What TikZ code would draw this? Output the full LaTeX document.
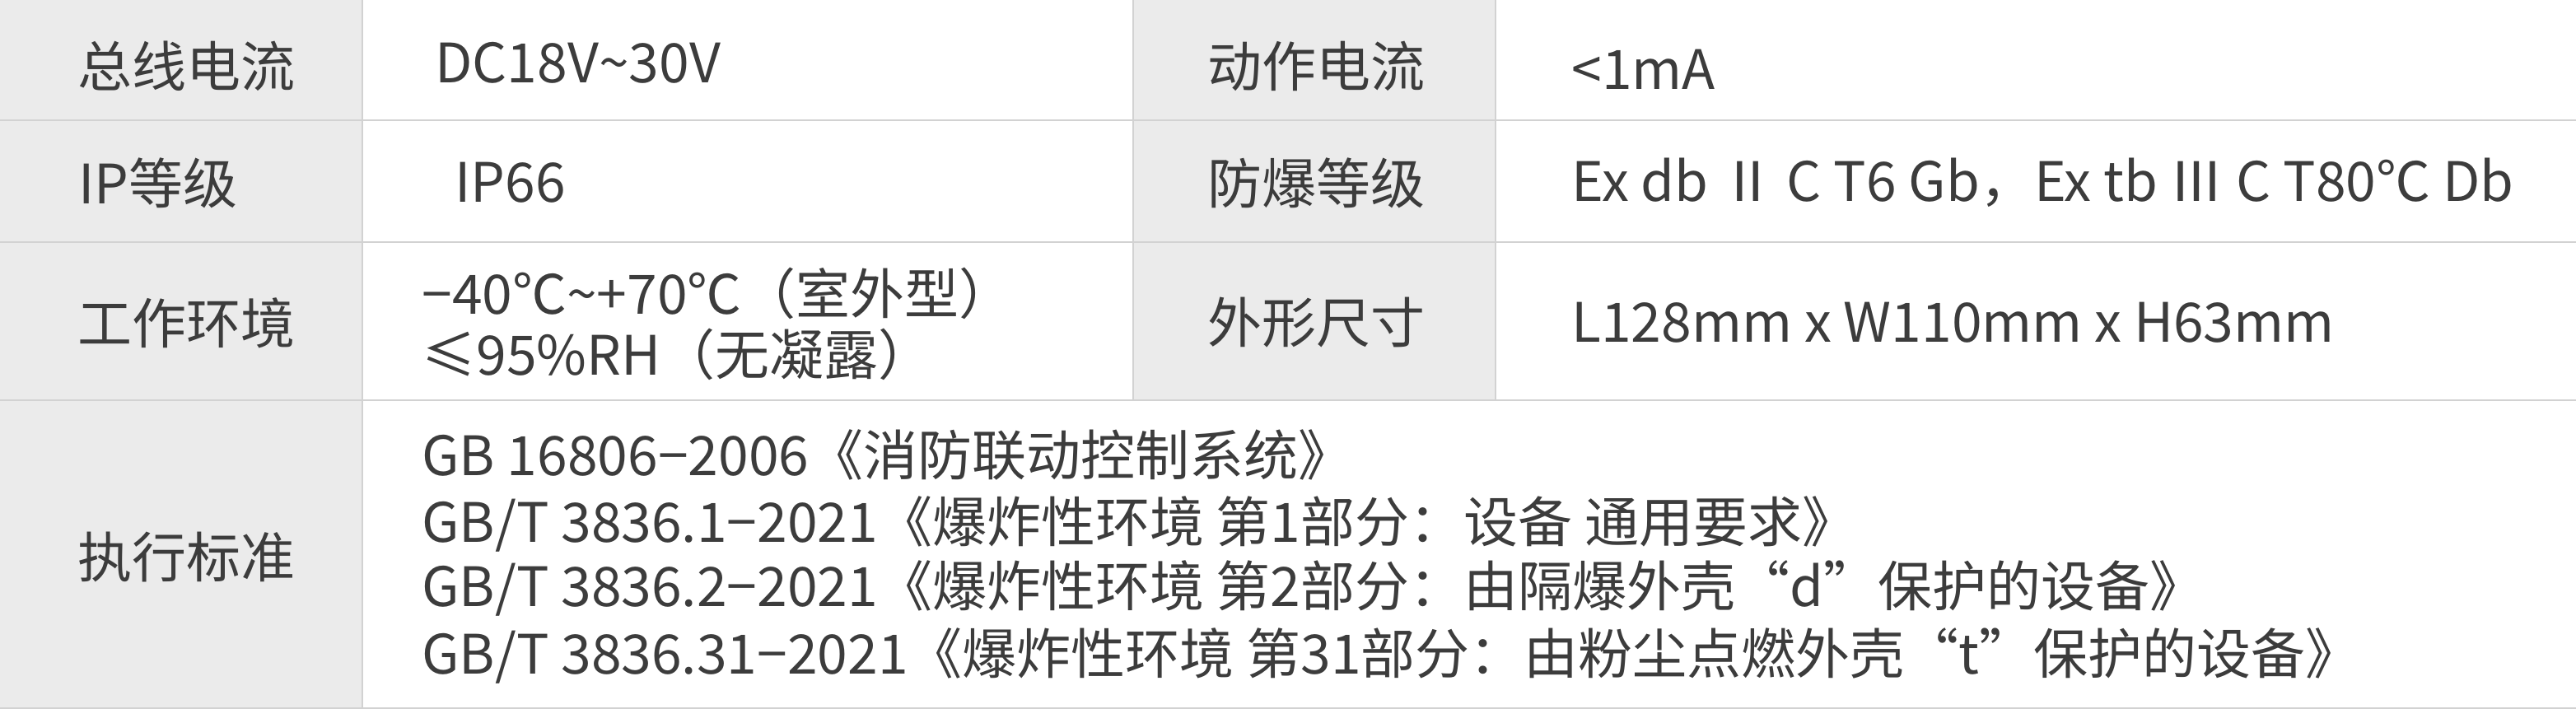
\documentclass[tikz,border=0pt]{standalone}
\usepackage{fontspec}
\setmainfont{Noto Sans CJK SC}
\definecolor{grid}{HTML}{D2D2D2}
\definecolor{cell}{HTML}{EBEBEB}
\definecolor{ink}{HTML}{3C3C3C}
\begin{document}
\begin{tikzpicture}[x=1pt,y=-1pt,
  lab/.style={text=ink,font=\fontsize{33}{38}\selectfont,inner sep=0pt,anchor=center},
  val/.style={text=ink,font=\fontsize{33}{38}\selectfont,inner sep=0pt,anchor=west}]
\useasboundingbox (0,0) rectangle (1564,430.5);
\fill[cell] (0,0) rectangle (220,430.5);
\fill[cell] (688,0) rectangle (908,243);
\draw[grid,line width=1.2pt] (0,73)--(1564,73) (0,147)--(1564,147) (0,243)--(1564,243) (0,430)--(1564,430);
\draw[grid,line width=1.2pt] (220,0)--(220,430.5) (688,0)--(688,243) (908,0)--(908,243);
\node[lab] (l1) at (113,40) {总线电流};
\node[lab] (l2) at (96,111) {IP等级};
\node[lab] (l3) at (113,196) {工作环境};
\node[lab] (l4) at (113,338) {执行标准};
\node[lab] (r1) at (799,40) {动作电流};
\node[lab] (r2) at (799,111) {防爆等级};
\node[lab] (r3) at (799,196) {外形尺寸};
\node[val] (v1) at (264,38) {DC18V\textasciitilde30V};
\node[val] (v2) at (276,111) {IP66};
\node[val] (v3a) at (256,178) {−40℃\textasciitilde+70℃（室外型）};
\node[val] (v3b) at (256,215) {≤95\%RH（无凝露）};
\node[val] (w1) at (954,42) {<1mA};
\node[val] (w2) at (954,111) {Ex db Ⅱ C T6 Gb，Ex tb Ⅲ C T80℃ Db};
\node[val] (w3) at (954,196) {L128mm x W110mm x H63mm};
\node[val] (s1) at (256,276) {GB 16806−2006《消防联动控制系统》};
\node[val] (s2) at (256,318) {GB/T 3836.1−2021《爆炸性环境 第1部分：设备 通用要求》};
\node[val] (s3) at (256,357) {GB/T 3836.2−2021《爆炸性环境 第2部分：由隔爆外壳“d”保护的设备》};
\node[val] (s4) at (256,398) {GB/T 3836.31−2021《爆炸性环境 第31部分：由粉尘点燃外壳“t”保护的设备》};
\end{tikzpicture}
\end{document}
